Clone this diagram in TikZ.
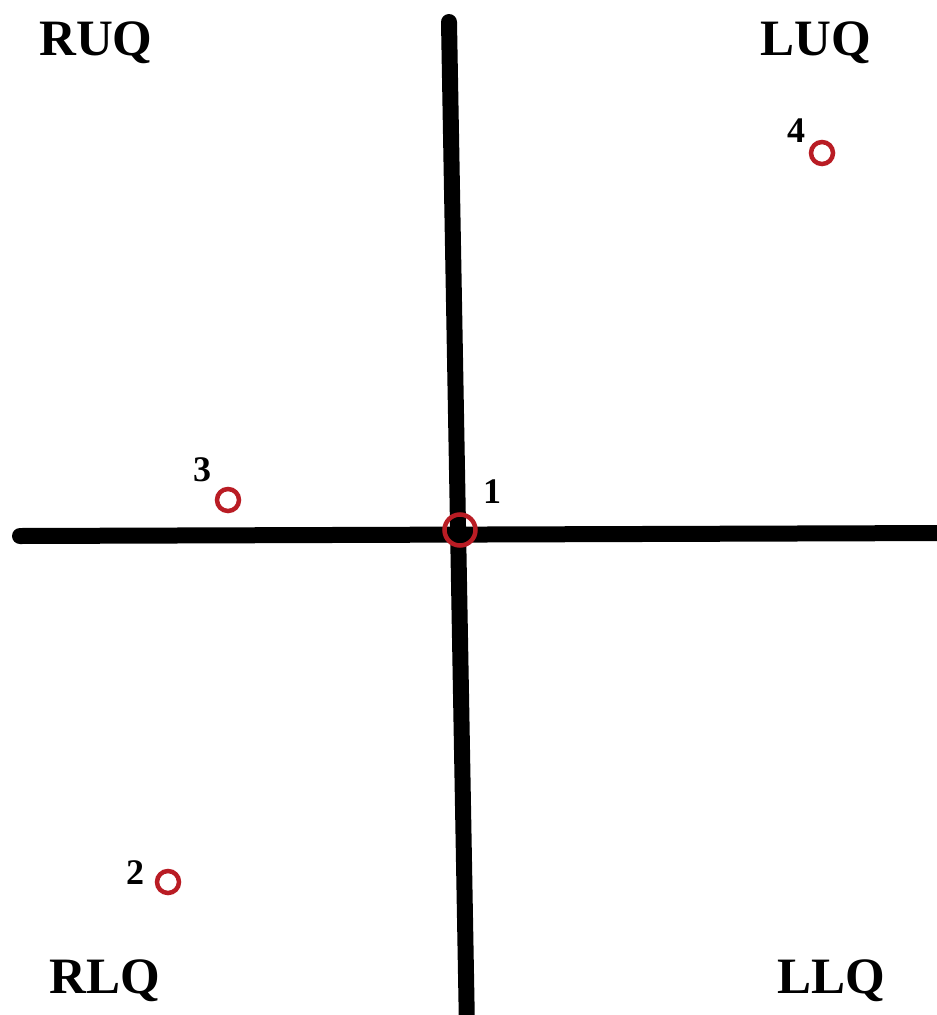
\documentclass[tikz,border=0pt]{standalone}
\usepackage{fontspec}
\setmainfont{Liberation Serif}
\definecolor{ringred}{RGB}{185,28,36}
\begin{document}
\begin{tikzpicture}[x=1pt,y=-1pt,
  axis/.style={line width=16pt,line cap=round,black},
  ring/.style={circle,draw=ringred,line width=4.5pt,inner sep=0pt,minimum size=22pt},
  quad/.style={font=\fontsize{51}{51}\selectfont\bfseries,inner sep=0pt},
  num/.style={font=\fontsize{36}{36}\selectfont\bfseries,inner sep=0pt}]
\useasboundingbox (0,0) rectangle (937,1015);
\coordinate (vtop) at (449,22);
\coordinate (vbot) at (467,1030);
\coordinate (hl) at (20,536);
\coordinate (hr) at (950,533);
\draw[axis] (vtop) -- (vbot);
\draw[axis] (hl) -- (hr);
\node[ring,minimum size=31pt] (c1) at (460,530) {};
\node[ring] (c2) at (168,882) {};
\node[ring] (c3) at (228,500) {};
\node[ring] (c4) at (822,153) {};
\node[num] (n1) at (492,492) {1};
\node[num] (n2) at (135,873) {2};
\node[num] (n3) at (202,470) {3};
\node[num] (n4) at (796,131) {4};
\node[quad,anchor=base west] (ruq) at (39,55) {RUQ};
\node[quad,anchor=base east] (luq) at (871,55) {LUQ};
\node[quad,anchor=base west] (rlq) at (49,993) {RLQ};
\node[quad,anchor=base east] (llq) at (885,993) {LLQ};
\end{tikzpicture}
\end{document}
